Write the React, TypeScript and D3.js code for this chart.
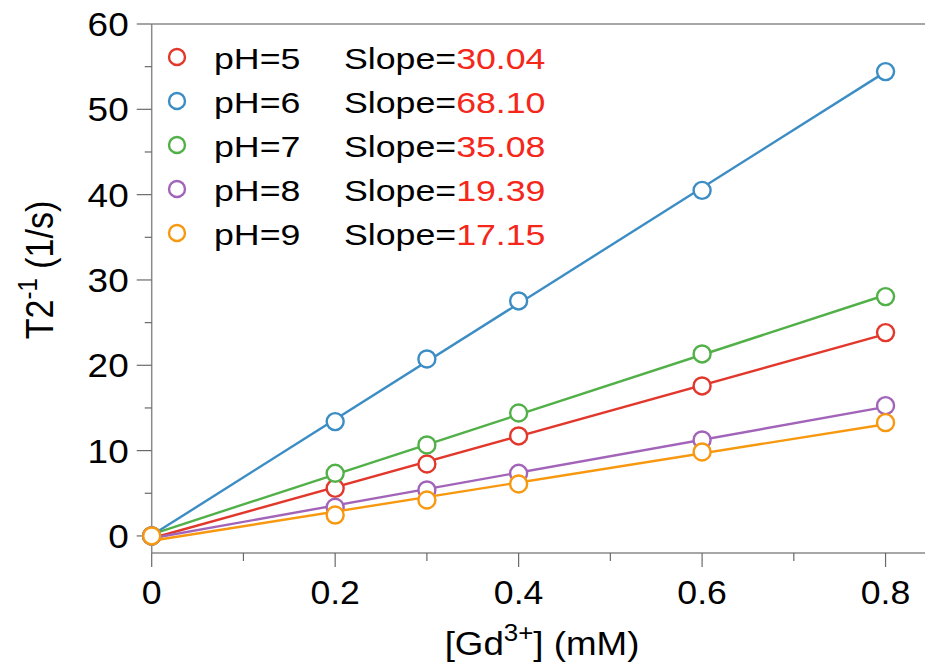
import { useEffect, useRef } from 'react';
import * as d3 from 'd3';

const concentrations = [0, 0.2, 0.3, 0.4, 0.6, 0.8];
const phLabels = ['pH=5', 'pH=6', 'pH=7', 'pH=8', 'pH=9'];
const slopeLabels = ['30.04', '68.10', '35.08', '19.39', '17.15'];
const ph5 = [0, 5.58, 8.43, 11.72, 17.58, 23.83];
const ph6 = [0, 13.4, 20.74, 27.54, 40.5, 54.42];
const ph7 = [0, 7.34, 10.66, 14.41, 21.33, 28.05];
const ph8 = [0, 3.36, 5.39, 7.34, 11.25, 15.27];
const ph9 = [0, 2.45, 4.21, 6.09, 9.84, 13.28];
const colors = ['#e2382c', '#3c8dc4', '#52b049', '#a264b9', '#f7980f'];
const xTicks = [0, 0.2, 0.4, 0.6, 0.8];
const yTicks = [0, 10, 20, 30, 40, 50, 60];

const FONT = '"Liberation Sans", Arial, Helvetica, sans-serif';

function fit(xs: number[], ys: number[]) {
  const mx = d3.mean(xs)!;
  const my = d3.mean(ys)!;
  let sxy = 0;
  let sxx = 0;
  xs.forEach((x, i) => {
    sxy += (x - mx) * (ys[i] - my);
    sxx += (x - mx) * (x - mx);
  });
  const slope = sxy / sxx;
  return { slope, intercept: my - slope * mx };
}

export default function App() {
  const svgRef = useRef<SVGSVGElement>(null);

  useEffect(() => {
    document.body.style.margin = '0';
    const svg = d3.select(svgRef.current);
    svg.selectAll('*').remove();

    const width = 925;
    const height = 668;
    const series = [ph5, ph6, ph7, ph8, ph9];

    const x = d3.scaleLinear().domain([0, 0.843]).range([151.7, 925]);
    const y = d3.scaleLinear().domain([-2, 60]).range([553, 24]);
    const [x0, x1] = x.range();
    const [yb, yt] = y.range();

    svg.attr('viewBox', `0 0 ${width} ${height}`);

    // frame
    const frame = svg.append('g').attr('stroke', '#8a8a8a').attr('stroke-width', 1.5);
    frame.append('line').attr('x1', x0).attr('x2', x1).attr('y1', yt).attr('y2', yt);
    frame.append('line').attr('x1', x0).attr('x2', x1).attr('y1', yb).attr('y2', yb);
    frame.append('line').attr('x1', x0).attr('x2', x0).attr('y1', yt).attr('y2', yb);

    // ticks
    const ticks = svg.append('g').attr('stroke', '#6a6a6a').attr('stroke-width', 1.2);
    d3.range(0, 0.81, 0.1).forEach((v, i) => {
      ticks.append('line')
        .attr('x1', x(v)).attr('x2', x(v))
        .attr('y1', yb).attr('y2', yb + (i % 2 === 0 ? 14 : 8));
    });
    d3.range(0, 61, 5).forEach((v, i) => {
      ticks.append('line')
        .attr('x1', x0 - (i % 2 === 0 ? 15 : 7)).attr('x2', x0)
        .attr('y1', y(v)).attr('y2', y(v));
    });

    xTicks.forEach(v => {
      svg.append('text')
        .attr('transform', `translate(${x(v)},${yb + 51}) scale(1.08,1)`)
        .attr('text-anchor', 'middle')
        .attr('font-family', FONT)
        .attr('font-size', 33)
        .text(v === 0 ? '0' : String(v));
    });
    yTicks.forEach(v => {
      svg.append('text')
        .attr('transform', `translate(${x0 - 23},${y(v) + 12}) scale(1.12,1)`)
        .attr('text-anchor', 'end')
        .attr('font-family', FONT)
        .attr('font-size', 33)
        .text(String(v));
    });

    // axis labels
    const xl = svg.append('text')
      .attr('transform', `translate(542,655) scale(1.08,1)`)
      .attr('text-anchor', 'middle')
      .attr('font-family', FONT)
      .attr('font-size', 34);
    xl.append('tspan').text('[Gd');
    xl.append('tspan').attr('dy', -14).attr('font-size', 24).text('3+');
    xl.append('tspan').attr('dy', 14).text('] (mM)');

    const yl = svg.append('text')
      .attr('transform', `translate(53,270) rotate(-90) scale(1,1.12)`)
      .attr('text-anchor', 'middle')
      .attr('font-family', FONT)
      .attr('font-size', 34);
    yl.append('tspan').text('T2');
    yl.append('tspan').attr('dy', -14).attr('font-size', 24).text('-1');
    yl.append('tspan').attr('dy', 14).text(' (1/s)');

    // series
    series.forEach((vals, si) => {
      const f = fit(concentrations, vals);
      const g = svg.append('g');
      g.append('line')
        .attr('x1', x(0)).attr('y1', y(f.intercept))
        .attr('x2', x(0.8)).attr('y2', y(f.intercept + f.slope * 0.8))
        .attr('stroke', colors[si])
        .attr('stroke-width', 2.4);
      g.selectAll('circle')
        .data(vals)
        .join('circle')
        .attr('cx', (_, i) => x(concentrations[i]))
        .attr('cy', d => y(d))
        .attr('r', 8.5)
        .attr('fill', 'white')
        .attr('stroke', colors[si])
        .attr('stroke-width', 2.4);
    });

    // legend
    const legend = svg.append('g');
    phLabels.forEach((lab, i) => {
      const cy = 57 + i * 44;
      legend.append('circle')
        .attr('cx', 177).attr('cy', cy).attr('r', 8)
        .attr('fill', 'white')
        .attr('stroke', colors[i])
        .attr('stroke-width', 2.4);
      legend.append('text')
        .attr('transform', `translate(214,${cy + 12}) scale(1.19,1)`)
        .attr('font-family', FONT)
        .attr('font-size', 30)
        .text(lab);
      const t = legend.append('text')
        .attr('transform', `translate(344,${cy + 12}) scale(1.19,1)`)
        .attr('font-family', FONT)
        .attr('font-size', 30);
      t.append('tspan').text('Slope=');
      t.append('tspan').attr('fill', '#f5261a').text(slopeLabels[i]);
    });
  }, []);

  return (
    <div style={{ width: 925, height: 668 }}>
      <svg ref={svgRef} width={925} height={668} style={{ display: 'block' }} />
    </div>
  );
}
